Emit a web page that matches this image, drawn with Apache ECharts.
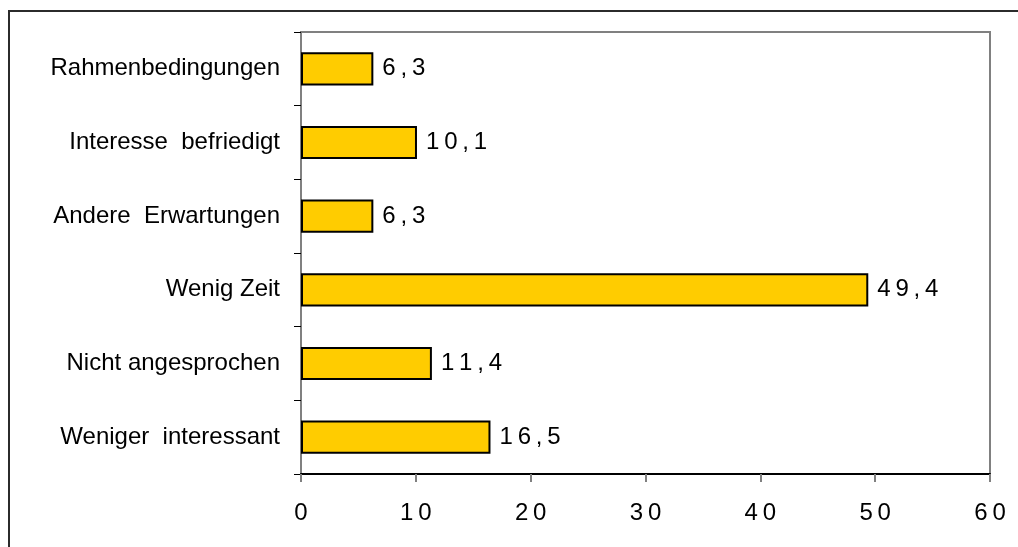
<!DOCTYPE html>
<html>
<head>
<meta charset="utf-8">
<title>Gründe</title>
<script src="https://cdn.jsdelivr.net/npm/echarts@6/dist/echarts.min.js"></script>
<style>
  html, body { margin: 0; padding: 0; background: #fff; }
  #chart { width: 1018px; height: 547px; }
</style>
</head>
<body>
<div id="chart"></div>
<script>
// Kategorien von oben nach unten
const categories = [
  'Rahmenbedingungen',
  'Interesse befriedigt',
  'Andere Erwartungen',
  'Wenig Zeit',
  'Nicht angesprochen',
  'Weniger interessant'
];
const values = [6.3, 10.1, 6.3, 49.4, 11.4, 16.5];
const xTicks = [0, 10, 20, 30, 40, 50, 60];
// diese Beschriftungen haben im Original einen breiteren Wortabstand
const wideSpaced = ['Interesse befriedigt', 'Andere Erwartungen', 'Weniger interessant'];

const FONT = 'Arial, "Liberation Sans", sans-serif';
const spaced = s => String(s).split('').join('\u2009'); // gesperrte Zahlen

const chart = echarts.init(document.getElementById('chart'));

const option = {
  animation: false,
  backgroundColor: '#fff',
  graphic: [{
    type: 'rect',
    shape: { x: 9, y: 11, width: 1100, height: 700 },
    style: { fill: 'none', stroke: '#2b2b2b', lineWidth: 2 },
    silent: true
  }],
  grid: {
    left: 301,
    right: 28,
    top: 32,
    bottom: 73,
    show: true,
    borderColor: '#808080',
    borderWidth: 2,
    backgroundColor: '#fff'
  },
  xAxis: {
    type: 'value',
    min: xTicks[0],
    max: xTicks[xTicks.length - 1],
    interval: 10,
    splitLine: { show: false },
    axisLine: { show: true, lineStyle: { color: '#000', width: 2 } },
    axisTick: { show: true, length: 8, lineStyle: { color: '#808080', width: 2 } },
    axisLabel: {
      margin: 27,
      color: '#000',
      fontSize: 24,
      fontFamily: FONT,
      formatter: v => spaced(v)
    }
  },
  yAxis: {
    type: 'category',
    inverse: true,
    data: categories,
    axisLine: { show: true, lineStyle: { color: '#808080', width: 2 } },
    axisTick: { show: true, length: 7, lineStyle: { color: '#000', width: 1 } },
    axisLabel: {
      margin: 21,
      color: '#000',
      fontSize: 24,
      fontFamily: FONT,
      formatter: v => wideSpaced.includes(v) ? v.replace(/ /g, '  ') : v
    }
  },
  series: [{
    type: 'bar',
    data: values,
    barWidth: '45%',
    itemStyle: {
      color: '#FFCC00',
      borderColor: '#000',
      borderWidth: 2
    },
    label: {
      show: true,
      position: 'right',
      distance: 9,
      color: '#000',
      fontSize: 24,
      fontFamily: FONT,
      formatter: p => spaced(String(p.value).replace('.', ','))
    }
  }]
};

chart.setOption(option);
</script>
</body>
</html>
